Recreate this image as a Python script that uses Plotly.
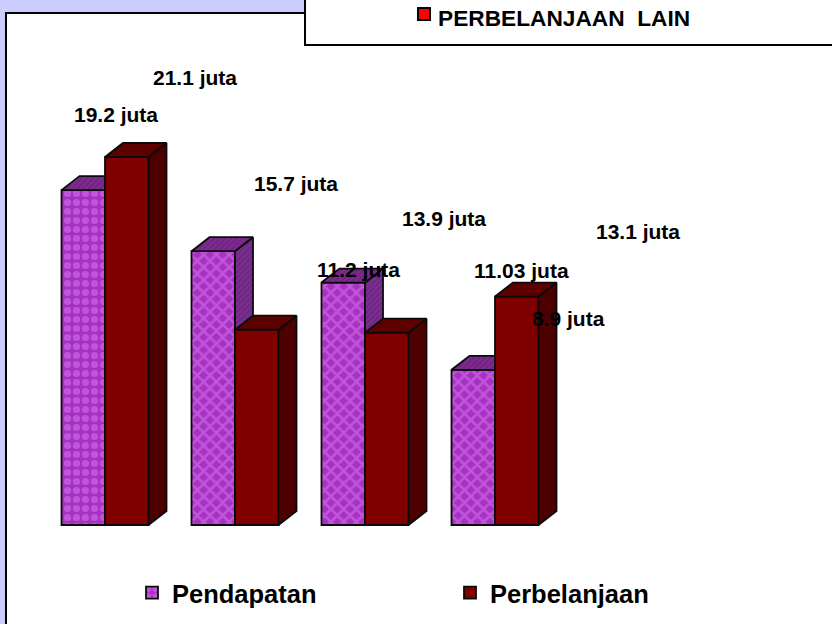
import plotly.graph_objects as go

# ---- data ----
groups = [0, 1, 2, 3]
pendapatan = [19.2, 15.7, 13.9, 8.9]
perbelanjaan = [21.1, 11.2, 11.03, 13.1]
pendapatan_labels = ["19.2 juta", "15.7 juta", "13.9 juta", "8.9 juta"]
perbelanjaan_labels = ["21.1 juta", "11.2 juta", "11.03 juta", "13.1 juta"]
pendapatan_patterns = [".", "x", "x", "x"]

# ---- layout constants ----
W, H = 832, 624
PX_X = 130.0      # pixels per group
PX_Y = 17.44      # pixels per unit
X0_PX, Y0_PX = 105.0, 525.0
BAR = 43.5 / PX_X
DX, DY = 18 / PX_X, 14 / PX_Y
xr = [-X0_PX / PX_X, (W - X0_PX) / PX_X]
yr = [(Y0_PX - H) / PX_Y, Y0_PX / PX_Y]
FONT = "Liberation Sans, Arial, sans-serif"

# label centres in pixels
pend_label_px = [(116, 114), (296, 183), (444, 219), (568, 318)]
perb_label_px = [(195, 77), (358, 269), (521, 270), (638, 231)]


def px(x):
    return x / W


def py(y):
    return 1 - y / H


def faces(values, left_off):
    side_x, side_y, top_x, top_y = [], [], [], []
    for g, v in zip(groups, values):
        l = g + left_off
        r = l + BAR
        side_x += [r, r + DX, r + DX, r, r, None]
        side_y += [0, DY, v + DY, v, 0, None]
        top_x += [l, l + DX, r + DX, r, l, None]
        top_y += [v, v + DY, v + DY, v, v, None]
    return side_x, side_y, top_x, top_y


LINE = dict(color="#0a0a0a", width=1.8)
fig = go.Figure()


def add_series(name, values, off, front, fg, side, top, shapes, xa, ya, sidepat=None):
    m = dict(color=front, line=LINE)
    if shapes:
        m["pattern"] = dict(shape=shapes, fgcolor=fg, bgcolor=front, size=9, solidity=0.5)
    fig.add_trace(go.Bar(x=groups, y=values, name=name, offset=off, width=BAR,
                         marker=m, xaxis=xa, yaxis=ya, hoverinfo="skip"))
    sx, sy, tx, ty = faces(values, off)
    for X, Y, col in ((sx, sy, side), (tx, ty, top)):
        tr = go.Scatter(x=X, y=Y, mode="lines", fill="toself", fillcolor=col, line=LINE,
                        showlegend=False, hoverinfo="skip", xaxis=xa, yaxis=ya)
        if sidepat:
            tr.fillpattern = dict(shape="/", fgcolor=sidepat, bgcolor=col, size=4, solidity=0.4)
        fig.add_trace(tr)


add_series("Pendapatan", pendapatan, -BAR, "#A930C4", "#D27CEA", "#7A2E90", "#7E2A90",
           pendapatan_patterns, "x", "y", sidepat="#5B1A70")
add_series("Perbelanjaan", perbelanjaan, 0, "#800000", None, "#4D0000", "#5C0000",
           None, "x2", "y2")

axis = dict(visible=False, fixedrange=True, showgrid=False, zeroline=False)
fig.update_layout(
    width=W, height=H, margin=dict(l=0, r=0, t=0, b=0, autoexpand=False),
    paper_bgcolor="#CCCCFF", plot_bgcolor="rgba(0,0,0,0)",
    barmode="overlay", font=dict(family=FONT, color="#000000"),
    xaxis=dict(range=xr, domain=[0, 1], **axis),
    yaxis=dict(range=yr, domain=[0, 1], **axis),
    xaxis2=dict(range=xr, overlaying="x", **axis),
    yaxis2=dict(range=yr, overlaying="y", **axis),
    legend=dict(orientation="h", x=px(132), y=py(593), xanchor="left", yanchor="middle",
                entrywidth=273, entrywidthmode="pixels", bgcolor="rgba(0,0,0,0)",
                font=dict(size=25.5, family=FONT, weight="bold"), itemclick=False, itemdoubleclick=False),
    shapes=[
        dict(type="rect", xref="paper", yref="paper", x0=px(6), x1=px(840), y0=py(13), y1=py(640),
             fillcolor="#FFFFFF", line=dict(color="#000000", width=2), layer="below"),
        dict(type="rect", xref="paper", yref="paper", x0=px(305), x1=px(840), y0=py(-5), y1=py(45),
             fillcolor="#FFFFFF", line=dict(color="#000000", width=2), layer="above"),
        dict(type="rect", xref="paper", yref="paper", x0=px(418), x1=px(430), y0=py(8), y1=py(20),
             fillcolor="#FF0000", line=dict(color="#000000", width=2), layer="above"),
    ],
)

anns = [dict(x=px(563.5), y=py(17.5), xref="paper", yref="paper", text="<b>PERBELANJAAN  LAIN</b>",
             xanchor="center", yanchor="middle", showarrow=False, font=dict(size=22.7, family=FONT))]
for txts, pos in ((pendapatan_labels, pend_label_px), (perbelanjaan_labels, perb_label_px)):
    for t, (x, y) in zip(txts, pos):
        anns.append(dict(x=px(x), y=py(y), xref="paper", yref="paper", text=f"<b>{t}</b>",
                         xanchor="center", yanchor="middle",
                         showarrow=False, font=dict(size=21, family=FONT)))
fig.update_layout(annotations=anns)

fig.write_html("out.html", config=dict(displayModeBar=False),
               post_script="document.body.style.margin='0';")
